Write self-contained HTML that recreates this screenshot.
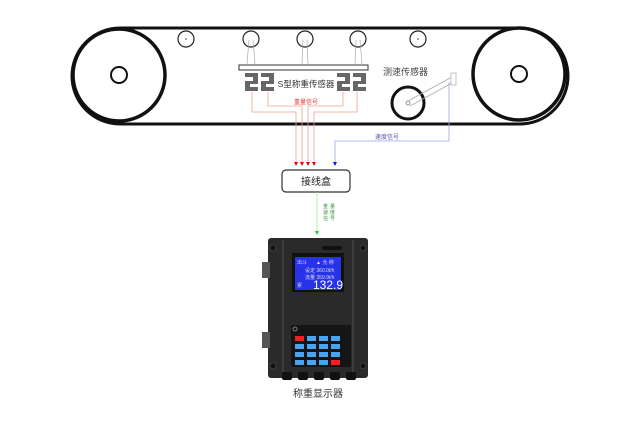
<!DOCTYPE html>
<html><head><meta charset="utf-8"><style>
body{margin:0;background:#fff;width:640px;height:427px;overflow:hidden}
text{font-family:"Liberation Sans","Noto Sans CJK SC",sans-serif}
</style></head><body>
<svg width="640" height="427" viewBox="0 0 640 427" xmlns="http://www.w3.org/2000/svg">
<!-- belt -->
<rect x="72" y="28" width="496" height="96" rx="48" fill="none" stroke="#111" stroke-width="3"/>
<circle cx="119" cy="75" r="46" fill="none" stroke="#111" stroke-width="3.5"/>
<circle cx="119" cy="75" r="8" fill="none" stroke="#111" stroke-width="2"/>
<circle cx="519" cy="74" r="46" fill="none" stroke="#111" stroke-width="3.5"/>
<circle cx="519" cy="74" r="8" fill="none" stroke="#111" stroke-width="2"/>
<g fill="none" stroke="#222" stroke-width="1.2">
<circle cx="186" cy="39" r="8"/><circle cx="251" cy="39" r="8"/><circle cx="305" cy="39" r="8"/><circle cx="358" cy="39" r="8"/><circle cx="418" cy="39" r="8"/>
</g>
<g fill="#888"><circle cx="186" cy="39" r="1"/><circle cx="418" cy="39" r="1"/></g>
<g stroke="#aaa" stroke-width="0.7" fill="none">
<path d="M249 40 L247 64 M253 40 L255 64 M303 40 L302 64 M307 40 L308 64 M356 40 L355 64 M360 40 L362 64"/>
</g>
<rect x="239" y="65" width="129" height="5" fill="#fff" stroke="#333" stroke-width="1"/>
<g fill="#666">
<path d="M245 73h13v11h-8v3h8v4h-13v-10h8v-4h-8z"/>
<path d="M261 73h13v11h-8v3h8v4h-13v-10h8v-4h-8z"/>
<path d="M337 73h13v11h-8v3h8v4h-13v-10h8v-4h-8z"/>
<path d="M353 73h13v11h-8v3h8v4h-13v-10h8v-4h-8z"/>
</g>
<text x="306" y="87" font-size="8.5" fill="#333" text-anchor="middle">S型称重传感器</text>
<text x="383" y="75" font-size="9" fill="#444">测速传感器</text>
<!-- speed sensor -->
<circle cx="408" cy="103" r="16" fill="#fff" stroke="#111" stroke-width="3"/>
<circle cx="408" cy="103" r="2" fill="none" stroke="#666" stroke-width="0.7"/>
<path d="M408 101 L452 77 M410 106 L452 83" stroke="#aaa" stroke-width="0.8" fill="none"/>
<rect x="451" y="73" width="5" height="12" fill="#fff" stroke="#aaa" stroke-width="0.7"/>
<!-- red lines -->
<g stroke="#f4a090" stroke-width="0.8" fill="none">
<path d="M252 92 V112 H296 V162"/>
<path d="M268 92 V106 H302 V162"/>
<path d="M343 92 V106 H308 V162"/>
<path d="M357 92 V112 H314 V162"/>
</g>
<text x="306" y="104" font-size="6" fill="#e33" text-anchor="middle">重量信号</text>
<g fill="#e00"><path d="M294 162h4l-2 4z M300 162h4l-2 4z M306 162h4l-2 4z M312 162h4l-2 4z"/></g>
<!-- blue -->
<path d="M449 82 V141 H335 V162" stroke="#99a8ee" stroke-width="0.8" fill="none"/>
<path d="M333 162h4l-2 4z" fill="#11d"/>
<text x="375" y="139" font-size="6" fill="#55a">速度信号</text>
<!-- junction box -->
<rect x="282" y="170" width="68" height="22" rx="4" fill="#fff" stroke="#333" stroke-width="1.2"/>
<text x="316" y="185" font-size="10" fill="#222" text-anchor="middle">接线盒</text>
<path d="M317 192 V231" stroke="#9e9" stroke-width="0.8"/>
<path d="M315 231h4l-2 4z" fill="#2c2"/>
<g font-size="5" fill="#393">
<text x="323" y="208">重</text><text x="323" y="214">速</text><text x="323" y="220">信</text>
<text x="330" y="208">量</text><text x="330" y="214">度</text><text x="330" y="220">号</text>
</g>
<!-- device -->
<rect x="268" y="238" width="100" height="140" rx="3" fill="#2a2a2a"/>
<rect x="262" y="262" width="8" height="16" fill="#555"/>
<rect x="262" y="332" width="8" height="16" fill="#555"/>
<path d="M283 240 V372 M353 240 V372" stroke="#3c3c3c" stroke-width="2"/>
<g fill="#111" stroke="#555" stroke-width="0.6"><circle cx="273" cy="248" r="3"/><circle cx="363" cy="248" r="3"/><circle cx="273" cy="366" r="3"/><circle cx="363" cy="366" r="3"/></g>
<rect x="322" y="246" width="20" height="4" rx="2" fill="#111"/>
<rect x="292" y="253" width="52" height="39" fill="#111"/>
<rect x="295" y="257" width="46" height="33" fill="#2833e8"/>
<g fill="#dde" font-size="5"><text x="297" y="264">出斗</text><text x="316" y="264">▲ 允 称</text>
<text x="305" y="272">设定 360.0t/h</text><text x="305" y="279">流量 359.9t/h</text><text x="297" y="287">累</text></g>
<text x="313" y="289" font-size="12" fill="#fff">132.9</text>
<rect x="291" y="325" width="60" height="42" rx="2" fill="#151515"/>
<circle cx="295" cy="329" r="2" fill="none" stroke="#999" stroke-width="0.8"/>
<g fill="#4aa3f0">
<rect x="295" y="336" width="9" height="5" fill="#e22"/><rect x="307" y="336" width="9" height="5"/><rect x="319" y="336" width="9" height="5"/><rect x="331" y="336" width="9" height="5"/>
<rect x="295" y="344" width="9" height="5"/><rect x="307" y="344" width="9" height="5"/><rect x="319" y="344" width="9" height="5"/><rect x="331" y="344" width="9" height="5"/>
<rect x="295" y="352" width="9" height="5"/><rect x="307" y="352" width="9" height="5"/><rect x="319" y="352" width="9" height="5"/><rect x="331" y="352" width="9" height="5"/>
<rect x="295" y="360" width="9" height="5"/><rect x="307" y="360" width="9" height="5"/><rect x="319" y="360" width="9" height="5"/><rect x="331" y="360" width="9" height="5" fill="#e22"/>
</g>
<g fill="#111"><rect x="282" y="372" width="10" height="8" rx="2"/><rect x="298" y="372" width="10" height="8" rx="2"/><rect x="314" y="372" width="10" height="8" rx="2"/><rect x="330" y="372" width="10" height="8" rx="2"/><rect x="346" y="372" width="10" height="8" rx="2"/></g>
<text x="318" y="397" font-size="10" fill="#333" text-anchor="middle">称重显示器</text>
</svg>
</body></html>
